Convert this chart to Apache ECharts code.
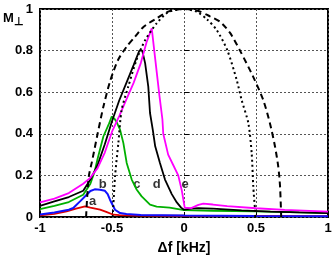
<!DOCTYPE html>
<html><head><meta charset="utf-8">
<script src="https://cdn.jsdelivr.net/npm/echarts@6/dist/echarts.min.js"></script>
<style>html,body{margin:0;padding:0;background:#fff;overflow:hidden}#c{width:332px;height:257px}</style>
</head><body><div id="c"></div>
<script>
// ---- data ----
var xTicks = ["-1", "-0.5", "0", "0.5", "1"];
var yTicks = ["0", "0.2", "0.4", "0.6", "0.8", "1"];

var xA = [-1, -0.9, -0.815, -0.75, -0.6875, -0.65, -0.583, -0.54, -0.49, -0.45, -0.3, 0, 0.5, 1];
var yA = [0.008, 0.015, 0.027, 0.04, 0.051, 0.045, 0.035, 0.025, 0.011, 0.009, 0.007, 0.006, 0.005, 0.004];

var xB = [-1, -0.9, -0.8, -0.769, -0.722, -0.676, -0.65, -0.62, -0.583, -0.549, -0.53, -0.514, -0.479, -0.444, -0.4, -0.3, 0, 0.5, 1];
var yB = [0.012, 0.022, 0.035, 0.043, 0.075, 0.107, 0.125, 0.133, 0.131, 0.126, 0.11, 0.083, 0.035, 0.019, 0.014, 0.01, 0.007, 0.005, 0.004];

var xC = [-1, -0.9, -0.8, -0.7, -0.65, -0.62, -0.6, -0.56, -0.52, -0.502, -0.48, -0.467, -0.444, -0.421, -0.398, -0.363, -0.328, -0.294, -0.236, -0.19, -0.1, 0, 0.2, 0.5, 0.8, 1];
var yC = [0.038, 0.054, 0.072, 0.107, 0.16, 0.22, 0.28, 0.387, 0.45, 0.483, 0.47, 0.455, 0.42, 0.355, 0.26, 0.18, 0.131, 0.099, 0.059, 0.05, 0.045, 0.033, 0.03, 0.027, 0.022, 0.019];

var xD = [-1, -0.9, -0.8, -0.7, -0.65, -0.6, -0.55, -0.5, -0.45, -0.4, -0.35, -0.31, -0.29, -0.27, -0.248, -0.236, -0.217, -0.2, -0.167, -0.132, -0.085, -0.05, -0.02, 0, 0.05, 0.1, 0.2, 0.4, 0.6, 0.8, 1];
var yD = [0.054, 0.075, 0.096, 0.126, 0.18, 0.25, 0.35, 0.46, 0.56, 0.645, 0.73, 0.80, 0.80, 0.74, 0.627, 0.50, 0.42, 0.34, 0.26, 0.18, 0.11, 0.07, 0.045, 0.035, 0.04, 0.043, 0.04, 0.032, 0.026, 0.022, 0.019];

var xE = [-1, -0.9, -0.8, -0.7, -0.653, -0.6, -0.55, -0.5, -0.45, -0.4, -0.35, -0.3, -0.26, -0.224, -0.2, -0.17, -0.15, -0.144, -0.11, -0.075, -0.04, -0.016, 0.005, 0.05, 0.1, 0.134, 0.2, 0.3, 0.5, 0.7, 1];
var yE = [0.07, 0.088, 0.115, 0.16, 0.187, 0.235, 0.31, 0.41, 0.485, 0.565, 0.645, 0.74, 0.84, 0.907, 0.76, 0.58, 0.47, 0.40, 0.30, 0.25, 0.20, 0.13, 0.045, 0.043, 0.058, 0.064, 0.06, 0.052, 0.042, 0.034, 0.026];

var xDash = [-0.68, -0.672, -0.66, -0.641, -0.6, -0.56, -0.514, -0.458, -0.398, -0.34, -0.28, -0.19, -0.1, 0, 0.1, 0.18, 0.25, 0.32, 0.389, 0.48, 0.55, 0.597, 0.632, 0.655, 0.667, 0.675];
var yDash = [0, 0.1, 0.2, 0.26, 0.40, 0.53, 0.651, 0.755, 0.819, 0.867, 0.915, 0.955, 0.99, 1.0, 0.99, 0.965, 0.939, 0.885, 0.80, 0.675, 0.563, 0.45, 0.339, 0.24, 0.147, 0];

var xDot = [-0.495, -0.479, -0.456, -0.433, -0.387, -0.33, -0.27, -0.19, -0.109, 0, 0.088, 0.16, 0.227, 0.3, 0.366, 0.40, 0.447, 0.47, 0.481, 0.493, 0.495];
var yDot = [0, 0.195, 0.355, 0.515, 0.627, 0.755, 0.85, 0.931, 0.985, 1.0, 0.987, 0.95, 0.899, 0.803, 0.659, 0.563, 0.451, 0.307, 0.147, 0.035, 0];

var labelText = ["a", "b", "c", "d", "e"];
var labelX = [-0.634, -0.565, -0.328, -0.19, 0.007];
var labelY = [0.075, 0.155, 0.158, 0.158, 0.158];

var xName = "Δf [kHz]";
var yName = "M";
var ySub = "⊥";

function pairs(xs, ys) { return xs.map(function (x, i) { return [x, ys[i]]; }); }

var FONT = "'Liberation Sans', Arial, sans-serif";
var chart = echarts.init(document.getElementById('c'), null, { renderer: 'canvas' });

function lineSeries(xs, ys, color, width, type, smooth) {
  return {
    type: 'line', data: pairs(xs, ys), showSymbol: false, symbol: 'none',
    smooth: smooth || false,
    lineStyle: { color: color, width: width, type: type || 'solid' },
    animation: false, silent: true
  };
}

chart.setOption({
  animation: false,
  grid: { left: 40, right: 4, top: 9, bottom: 40, containLabel: false, outerBoundsMode: 'none',
    show: true, borderColor: '#000', borderWidth: 2, backgroundColor: 'transparent' },
  xAxis: {
    type: 'value', min: -1, max: 1, interval: 0.5,
    name: xName, nameLocation: 'middle', nameGap: 24,
    nameTextStyle: { fontFamily: FONT, fontWeight: 'bold', fontSize: 14, color: '#000' },
    axisLine: { show: false },
    axisTick: { show: true, inside: true, length: 5, lineStyle: { color: '#000', width: 1 } },
    axisLabel: { margin: 5, fontFamily: FONT, fontWeight: 'bold', fontSize: 13, color: '#000',
      formatter: function (v) { var i = Math.round((v + 1) / 0.5); return xTicks[i]; } },
    splitLine: { show: true, lineStyle: { type: [2, 2], color: '#555', width: 1 } }
  },
  yAxis: {
    type: 'value', min: 0, max: 1, interval: 0.2,
    axisLine: { show: false },
    axisTick: { show: true, inside: true, length: 5, lineStyle: { color: '#000', width: 1 } },
    axisLabel: { margin: 7, fontFamily: FONT, fontWeight: 'bold', fontSize: 13, color: '#000',
      formatter: function (v) { var i = Math.round(v / 0.2); return yTicks[i]; } },
    splitLine: { show: true, lineStyle: { type: [2, 2], color: '#555', width: 1 } }
  },
  graphic: [{
    type: 'text', left: 3, top: 12,
    style: { text: '{m|' + yName + '}{s|' + ySub + '}',
      rich: { m: { fontFamily: FONT, fontWeight: 'bold', fontSize: 13, fill: '#000' },
              s: { fontFamily: FONT, fontWeight: 'bold', fontSize: 11, fill: '#000', padding: [6, 0, 0, 0] } } }
  }],
  series: [
    lineSeries(xA, yA, '#e00000', 1.8),
    lineSeries(xB, yB, '#1010ff', 2),
    lineSeries(xC, yC, '#00b000', 1.8),
    lineSeries(xD, yD, '#000000', 1.8),
    lineSeries(xE, yE, '#ff00ff', 1.8),
    lineSeries(xDash, yDash, '#000', 2, [6, 4], 0.25),
    lineSeries(xDot, yDot, '#000', 2, [2, 3], 0.25),
    {
      type: 'scatter', symbolSize: 0, animation: false, silent: true,
      data: labelX.map(function (x, i) { return { value: [x, labelY[i]], name: labelText[i] }; }),
      label: { show: true, position: 'inside', formatter: function (p) { return p.name; },
        fontFamily: FONT, fontWeight: 'bold', fontSize: 13, color: '#000' }
    }
  ]
});
</script>
</body></html>
